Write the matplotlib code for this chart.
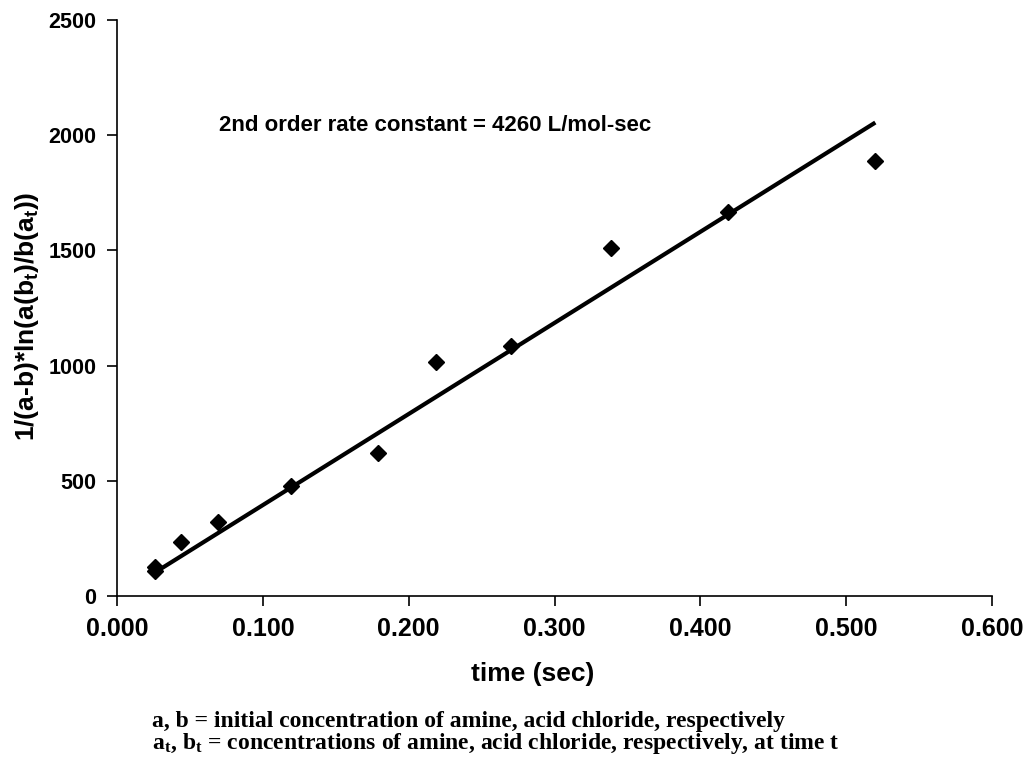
import matplotlib
matplotlib.use("Agg")
import matplotlib.pyplot as plt

# Data
time_sec = [0.026, 0.026, 0.044, 0.069, 0.119, 0.179, 0.219, 0.270, 0.339, 0.419, 0.520]
y_vals = [128, 110, 235, 320, 476, 620, 1016, 1085, 1512, 1668, 1888]
trend_x = [0.026, 0.520]
trend_y = [102, 2055]
x_ticks = [0.0, 0.1, 0.2, 0.3, 0.4, 0.5, 0.6]
x_tick_labels = ["0.000", "0.100", "0.200", "0.300", "0.400", "0.500", "0.600"]
y_ticks = [0, 500, 1000, 1500, 2000, 2500]

plt.rcParams['font.family'] = ['Liberation Sans', 'DejaVu Sans']
plt.rcParams['font.weight'] = 'bold'
plt.rcParams['mathtext.fontset'] = 'custom'
plt.rcParams['mathtext.rm'] = 'Liberation Sans:bold'
plt.rcParams['mathtext.it'] = 'Liberation Sans:bold'
plt.rcParams['mathtext.bf'] = 'Liberation Serif:bold'
plt.rcParams['mathtext.default'] = 'rm'

W, H = 1026, 765
fig = plt.figure(figsize=(W / 100, H / 100), dpi=100)
ax = fig.add_axes([117/W, 1 - 596/H, (992-117)/W, (596-20)/H])

ax.plot(trend_x, trend_y, color='black', lw=3, solid_capstyle='butt', zorder=2)
ax.plot(time_sec, y_vals, linestyle='none', marker='D', markersize=8,
        color='black', zorder=3)

ax.set_xlim(0, 0.6)
ax.set_ylim(0, 2500)
ax.set_xticks(x_ticks)
ax.set_xticklabels(x_tick_labels)
ax.set_yticks(y_ticks)
for s in ['top', 'right']:
    ax.spines[s].set_visible(False)
for s in ['left', 'bottom']:
    ax.spines[s].set_linewidth(1.2)
ax.tick_params(axis='x', direction='out', length=7, width=1.2, labelsize=18, pad=8)
ax.tick_params(axis='y', direction='out', length=7, width=1.2, labelsize=15.5, pad=8)
for lab in ax.get_xticklabels() + ax.get_yticklabels():
    lab.set_fontweight('bold')

fig.text(533/W, 1 - 674/H, 'time (sec)', fontsize=19, fontweight='bold',
         ha='center', va='center')
fig.text(27/W, 1 - 316/H, r'1/(a-b)*ln(a(b$_t$)/b(a$_t$))', fontsize=19,
         fontweight='bold', rotation=90, ha='center', va='center')

ax.text(0.070, 2040, '2nd order rate constant = 4260 L/mol-sec', fontsize=16,
        fontweight='bold', ha='left', va='center')

fig.text(152/W, 1 - 721/H,
         'a, b = initial concentration of amine, acid chloride, respectively',
         family='Liberation Serif', fontsize=17, fontweight='bold', va='center')
fig.text(152/W, 1 - 744/H,
         r'a$_{\mathbf{t}}$, b$_{\mathbf{t}}$ = concentrations of amine, acid chloride, respectively, at time t',
         family='Liberation Serif', fontsize=17, fontweight='bold', va='center')

fig.savefig('out.png', dpi=100)
